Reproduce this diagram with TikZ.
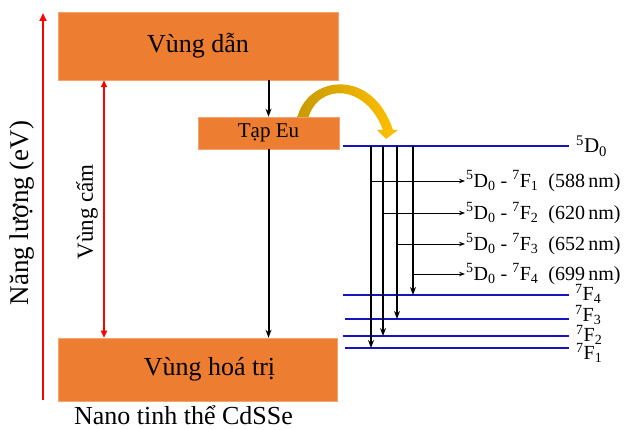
\documentclass[tikz,border=0pt]{standalone}
\usepackage{fontspec}
\setmainfont{Liberation Serif}
\usetikzlibrary{arrows.meta}
\definecolor{bandorange}{HTML}{ED7D31}
\definecolor{levelblue}{HTML}{1414C0}
\definecolor{golddark}{HTML}{C89A00}
\definecolor{goldlight}{HTML}{FFC000}
\newcommand{\trans}[2]{\textsuperscript{5}D\textsubscript{0} - \textsuperscript{7}F\textsubscript{#1}\ \ (#2\,nm)}
\begin{document}
\begin{tikzpicture}[x=1pt,y=-1pt,
  band/.style={draw=bandorange!70!white,fill=bandorange,line width=0.5pt,inner sep=0pt},
  big/.style={font=\fontsize{26}{30}\selectfont},
  level/.style={levelblue,line width=2.8pt},
  lvllabel/.style={anchor=west,inner sep=0pt,font=\fontsize{20}{22}\selectfont},
  decay/.style={line width=2pt,-{Stealth[length=8pt,width=6pt]}},
  emit/.style={line width=0.8pt,-{Stealth[length=6pt,width=4.5pt]}},
  redarrow/.style={red,line width=2.4pt,-{Triangle[length=8pt,width=7pt]}}]
\useasboundingbox (0,0) rectangle (625,430);
% energy transfer to Eu
\shade[left color=golddark,right color=goldlight] (297,119) .. controls (306,76) and (372,66) .. (393,130)
  -- (398,130) -- (386,139) -- (377,130) -- (383,130) .. controls (366,84) and (318,82) .. (308,119) -- cycle;
% bands of the nanocrystal
\node[band,big,minimum width=280pt,minimum height=68pt] (cb) at (198,46) {Vùng dẫn};
\node[band,minimum width=141pt,minimum height=32pt,font=\fontsize{21}{24}\selectfont] (eu) at (268.5,133) {Tạp Eu};
\node[band,big,minimum width=279pt,minimum height=63pt] (vb) at (197.5,369.5) {\hspace{24pt}Vùng hoá trị};
\node[big,anchor=base,inner sep=0pt] (cap) at (183.5,425) {Nano tinh thể CdSSe};
\draw[decay] (cb.south -| eu.north) -- (eu.north);
\draw[decay] (eu.south) -- (vb.north -| eu.south);
% energy axis and gap
\coordinate (ebot) at (43,400);
\coordinate (etop) at (43,13);
\draw[redarrow] (ebot) -- (etop);
\node[big,rotate=90,font=\fontsize{27}{30}\selectfont] (elabel) at (22,213) {Năng lượng (eV)};
\coordinate (gx) at (104,0);
\draw[redarrow,line width=1.5pt,{Triangle[length=7pt,width=6pt]}-{Triangle[length=7pt,width=6pt]}] (cb.south -| gx) -- (vb.north -| gx);
\node[rotate=90,font=\fontsize{23}{26}\selectfont] (glabel) at (87,212) {Vùng cấm};
% Eu levels
\foreach \name/\y/\xs in {d0/146/343,f4/295/343,f3/319/345,f2/336/343,f1/348/345}{
  \coordinate (\name l) at (\xs,\y);
  \coordinate (\name r) at (569,\y);
  \draw[level] (\name l) -- (\name r);
}
\node[lvllabel,font=\fontsize{21}{24}\selectfont] (d0t) at ([xshift=7pt]d0r) {\textsuperscript{5}D\textsubscript{0}};
\node[lvllabel] (f4t) at ([xshift=6pt,yshift=1pt]f4r) {\textsuperscript{7}F\textsubscript{4}};
\node[lvllabel] (f3t) at ([xshift=6pt,yshift=4pt]f3r) {\textsuperscript{7}F\textsubscript{3}};
\node[lvllabel] (f2t) at ([xshift=7pt,yshift=1pt]f2r) {\textsuperscript{7}F\textsubscript{2}};
\node[lvllabel] (f1t) at ([xshift=7pt,yshift=-5pt]f1r) {\textsuperscript{7}F\textsubscript{1}};
% transitions
\foreach \f/\n/\x/\ey/\nm in {f1/1/371/181/588,f2/2/383/213/620,f3/3/397/244/652,f4/4/413/274/699}{
  \coordinate (s\f) at (\x,146);
  \coordinate (e\f) at (\x,0);
  \draw[decay] (s\f) -- (e\f |- \f l);
  \coordinate (b\f) at (\x,\ey);
  \coordinate (t\f) at (465,\ey);
  \draw[emit] (b\f) -- (t\f);
  \node[anchor=west,inner sep=1pt,font=\fontsize{20}{24}\selectfont] (l\f) at (t\f) {\trans{\n}{\nm}};
}
\end{tikzpicture}
\end{document}
